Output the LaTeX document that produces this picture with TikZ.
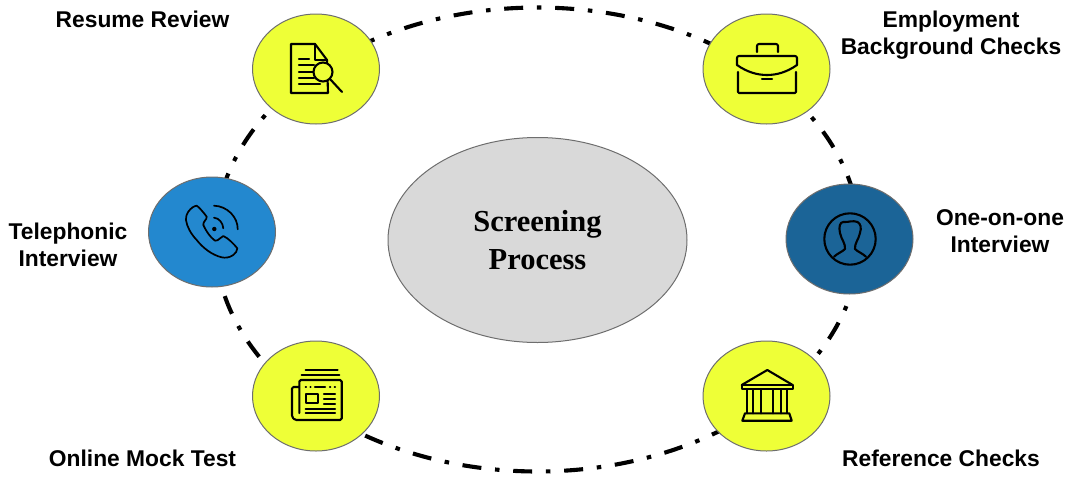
\documentclass[tikz,border=0pt]{standalone}
\usepackage{fontspec}
\setmainfont{Liberation Sans}
\newfontfamily\titlefont{Liberation Serif}
\definecolor{lime}{RGB}{238,255,55}
\definecolor{bluea}{RGB}{35,136,207}
\definecolor{blueb}{RGB}{27,100,151}
\definecolor{disc}{RGB}{217,217,217}
\definecolor{rimc}{RGB}{110,110,110}
\newcommand{\ringarc}[3][2.25pt]{\draw[ringseg,dash phase=#1] plot[domain=#2:#3,samples=70] ({537.5+322.5*cos(\x)},{239.5-232*sin(\x)});}
\tikzset{
  ringseg/.style={line width=4.1pt,black,dash pattern=on 4.5pt off 13.75pt on 19pt off 13.75pt},
  stage/.style={ellipse,draw=rimc,line width=1pt,minimum width=127pt,minimum height=110pt,inner sep=0pt},
  limestage/.style={stage,fill=lime},
  centerdisc/.style={ellipse,draw=rimc,line width=1pt,fill=disc,minimum width=299pt,minimum height=205pt,inner sep=0pt,font=\titlefont\bfseries\fontsize{30.5}{37.5}\selectfont,align=center},
  caption/.style={font=\bfseries\fontsize{22.8}{27}\selectfont,align=center,inner sep=0pt,text=black},
  icon/.style={line width=2.1pt,black,line join=round,line cap=round},
}
\usetikzlibrary{shapes.geometric}
\begin{document}
\begin{tikzpicture}[x=1pt,y=-1pt]
\useasboundingbox (0,0) rectangle (1069,477);
% ring
\ringarc{89.7}{45}
\ringarc{89.7}{125}
\ringarc[0pt]{147.6}{175}
\ringarc{202.4}{225}
\ringarc{202.4}{190}
\ringarc{271.9}{315}
\ringarc{271.9}{232}
\ringarc[0pt]{330.5}{345}
\ringarc[0pt]{31.8}{6}
% nodes
\node[centerdisc] (core) at (537.5,240) {Screening\\Process};
\node[limestage] (resume) at (316,69) {};
\node[limestage] (employ) at (766.5,69) {};
\node[stage,fill=bluea] (phone) at (212,232) {};
\node[stage,fill=blueb] (person) at (849.5,239) {};
\node[limestage] (mock) at (316,396) {};
\node[limestage] (refs) at (766.5,396) {};
% captions
\node[caption] (capresume) at (142.5,19.5) {Resume Review};
\node[caption] (capemploy) at (951,35) {Employment\\Background Checks};
\node[caption] (capphone) at (68,245) {Telephonic\\Interview};
\node[caption] (capperson) at (1000,231.5) {One-on-one\\Interview};
\node[caption] (capmock) at (142.5,458) {Online Mock Test};
\node[caption] (caprefs) at (941,458) {Reference Checks};
% icon: document and lens
\draw[icon] (328,93) -- (291,93) -- (291,44) -- (315,44) -- (327,60) -- (328,93);
\draw[icon] (315,44) -- (315,60) -- (327,60);
\draw[icon] (299,59) -- (309,59);
\draw[icon] (299,65) -- (314,65);
\draw[icon] (299,72) -- (314,72);
\draw[icon] (299,78) -- (314,78);
\draw[icon] (299,84) -- (320,84);
\draw[icon,fill=lime] (323,72) circle (9.5);
\draw[icon] (330,79) -- (342,92);
% icon: briefcase
\draw[icon,rounded corners=2pt] (757,52) -- (757,44) -- (778,44) -- (778,52);
\draw[icon,rounded corners=2pt] (737,65) -- (737,56) -- (797,56) -- (797,65);
\draw[icon] (737,65) .. controls (747,72) and (757,75) .. (767,75) .. controls (777,75) and (787,72) .. (797,65);
\draw[icon,rounded corners=1pt] (738,72) -- (738,93) -- (796,93) -- (796,72);
\draw[icon] (762,79) -- (772,79);
% icon: telephone
\draw[icon,line width=1.7pt] (188.3,211.7) .. controls (191,208) and (194,206) .. (196.7,205.7)
  .. controls (199,207) and (204,213) .. (206.7,216.7)
  .. controls (207,220) and (203,221) .. (203.3,225)
  .. controls (206,231) and (210,237) .. (215,240.7)
  .. controls (219,241) and (220,237) .. (223.3,236)
  .. controls (228,238) and (234,244) .. (237.3,248.3)
  .. controls (237,251) and (236,253) .. (233.3,255)
  .. controls (229,258) and (225,258) .. (221.7,257.3)
  .. controls (212,255) and (203,248) .. (196.7,240)
  .. controls (191,234) and (187,227) .. (186,220)
  .. controls (186,216) and (187,213) .. (188.3,211.7) -- cycle;
\fill (214.3,229) circle (2.2);
\draw[icon,line width=1.7pt] (214,217.7) .. controls (219,218) and (223,223) .. (223.3,228.3);
\draw[icon,line width=1.7pt] (214,205.7) .. controls (227,206) and (238,217) .. (237.7,229.3);
% icon: person
\draw[icon] (850,239) circle (25.7);
\draw[icon] (834,256.7) .. controls (838,253) and (842,252) .. (845,249)
  .. controls (845.5,243) and (841.5,240) .. (840,233)
  .. controls (838.5,227) and (840,222) .. (843.3,222)
  .. controls (848,222.5) and (853,220) .. (857.5,222)
  .. controls (861,224) and (861.5,228) .. (860,233)
  .. controls (858.5,240) and (854.5,243) .. (855,249)
  .. controls (858,252) and (862,253) .. (866,256.7);
% icon: newspaper
\draw[icon] (305.7,370) -- (337.7,370);
\draw[icon] (301.7,375) -- (339.3,375);
\draw[icon,rounded corners=1.5pt] (299.3,413) -- (299.3,380) -- (341.7,380) -- (341.7,420) -- (295,420) -- (292,417) -- (292,387) -- (299.3,387);
\draw[icon] (305.7,387.3) -- (306,387.3);
\draw[icon] (310.3,387.3) -- (310.6,387.3);
\draw[icon] (315,387.3) -- (325,387.3);
\draw[icon] (330,387.3) -- (330.3,387.3);
\draw[icon] (334.7,387.3) -- (335,387.3);
\draw[icon] (305.7,394.3) rectangle (318.3,403.3);
\draw[icon] (324,394.3) -- (335,394.3);
\draw[icon] (324,399.3) -- (335,399.3);
\draw[icon] (324,404) -- (335,404);
\draw[icon] (305.7,409) -- (335,409);
\draw[icon] (305.7,413.3) -- (335,413.3);
% icon: columned building
\draw[icon] (741.7,385) -- (767.3,370) -- (792.7,385);
\draw[icon] (741.7,385) rectangle (792.7,389.3);
\foreach \cx in {746.7,753.3,760.7,773.3,780.7,786.7}{\draw[icon] (\cx,389.3) -- (\cx,413.3);}
\draw[icon] (745,413.3) -- (789.3,413.3) -- (791.7,420.7) -- (742.3,420.7) -- cycle;
\end{tikzpicture}
\end{document}
